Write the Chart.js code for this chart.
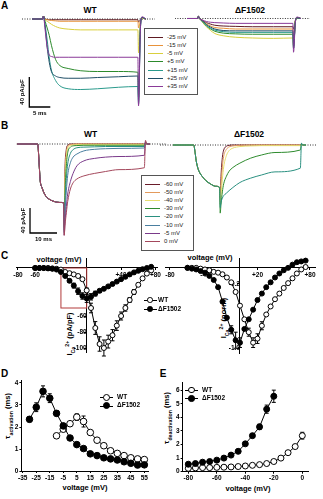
<!DOCTYPE html>
<html lang="en">
<head>
<meta charset="UTF-8">
<title>Cav currents: WT vs ΔF1502</title>
<script src="https://cdn.jsdelivr.net/npm/chart.js"></script>
<style>
  body { margin: 0; background: #fff; }
  #fig { position: relative; width: 323px; height: 499px; overflow: hidden;
         font-family: 'Liberation Sans', Arial, sans-serif; color: #000; }
  canvas { position: absolute; }
  .lbl { position: absolute; white-space: nowrap; transform: translate(-50%, -50%);
         font-weight: bold; line-height: 1; }
  .panel { font-size: 10px; }
  .ttl { font-size: 8.5px; }
  .ax { font-size: 7.5px; }
  .rot { transform: translate(-50%, -50%) rotate(-90deg); }
  sub, sup { font-size: 70%; line-height: 0; }
  .key { position: absolute; background: #fff; border: 1px solid #555; z-index: 2; }
  .key .row { position: absolute; left: 0; height: 0; }
  .key .ln { position: absolute; top: 0; width: 15px; border-top: 1px solid; }
  .key .tx { position: absolute; top: -3px; font-size: 6px; color: #222; white-space: nowrap; line-height: 1; }
  .sym { position: absolute; height: 0; z-index: 2; }
  .sym .ln { position: absolute; left: 0; top: 0; width: 13px; border-top: 1px solid #000; }
  .sym .dot { position: absolute; border: 1px solid #000; border-radius: 50%; box-sizing: border-box; }
  .sym .tx { position: absolute; top: -3.5px; font-size: 6.5px; font-weight: bold; white-space: nowrap; line-height: 1; }
</style>
</head>
<body>
<div id="fig">
  <div class="lbl panel" style="left:4.5px;top:5.5px">A</div>
  <div class="lbl ttl" style="left:90px;top:10px">WT</div>
  <div class="lbl ttl" style="left:250px;top:10px">ΔF1502</div>

  <div class="lbl panel" style="left:4.5px;top:125.5px">B</div>
  <div class="lbl ttl" style="left:90.5px;top:133.5px">WT</div>
  <div class="lbl ttl" style="left:249px;top:133.5px">ΔF1502</div>

  <div class="lbl panel" style="left:4.5px;top:255.5px">C</div>
  <div class="lbl ax" style="left:59px;top:259.5px">voltage (mV)</div>
  <div class="lbl ax" style="left:210px;top:257.5px">voltage (mV)</div>
  <div class="lbl ax rot" style="left:70px;top:334px">I<sub>Ca</sub><sup>2+</sup> (pA/pF)</div>
  <div class="lbl ax rot" style="left:224px;top:318px">I<sub>Ca</sub><sup>2+</sup> (norm)</div>

  <div class="lbl panel" style="left:4.5px;top:373.5px">D</div>
  <div class="lbl panel" style="left:163px;top:373.5px">E</div>
  <div class="lbl ax rot" style="left:8px;top:416px">τ<sub>activation</sub> (ms)</div>
  <div class="lbl ax rot" style="left:167px;top:418px">τ<sub>deactivation</sub> (ms)</div>
  <div class="lbl ax" style="left:85px;top:488px">voltage (mV)</div>
  <div class="lbl ax" style="left:248px;top:489px">voltage (mV)</div>
</div>

<script>
// ---------- A: step currents (pA/pF) vs time (ms) ----------
const aSteps = ['-25 mV', '-15 mV', '-5 mV', '+5 mV', '+15 mV', '+25 mV', '+35 mV'];
const aColors = ['#5e1a22', '#e8923a', '#d9cf3c', '#2c8a2c', '#2a9a8c', '#1f4e66', '#8a3a98'];
const aTime = [-2.6, -0.1, 0.1, 0.5, 1, 1.5, 2, 3, 4, 6, 9, 13, 18, 22.6, 22.75, 23.2, 23.6, 24.5];

const aWtMinus25 = [0, 0, 4, 0, -0.5, -1, -1, -1, -1, -1, -1, -1, -1, -1, -4, -1, 1, 0];
const aWtMinus15 = [0, 0, 4, -0.5, -1, -1.5, -2, -2.5, -3, -3, -3, -3, -3, -3, -12, -2, 1, 0];
const aWtMinus5 = [0, 0, 4, -1, -3, -5, -7, -10, -12, -13.5, -14.5, -14.5, -14.5, -14.5, -45, -5, 1, 0];
const aWtPlus5 = [0, 0, 4, -3, -12, -22, -35, -54, -62, -66, -69, -70, -70, -71, -105, -10, 2, 0];
const aWtPlus15 = [0, 0, 4, -8, -28, -52, -68, -82, -89, -93, -94, -93, -91, -90, -112, -12, 2, 0];
const aWtPlus25 = [0, 0, 4, -10, -38, -58, -70, -76, -78, -79, -79, -78, -77, -76, -114, -12, 2, 0];
const aWtPlus35 = [0, 0, 4, -14, -38, -48, -50, -51, -51, -51, -51, -51, -51, -51, -116, -14, 3, 0];

const aMutMinus25 = [0, 0, 3, -1, -2, -4, -5.5, -7.5, -9, -10, -10.5, -11, -11, -11, -14, -2, 1, 0];
const aMutMinus15 = [0, 0, 3, -1, -3, -5, -7, -10, -12, -13, -14, -14, -14, -14, -25, -3, 1, 0];
const aMutMinus5 = [0, 0, 3, -1, -4, -8, -11, -16, -20, -23, -25, -26, -26.5, -26, -36, -4, 1, 0];
const aMutPlus5 = [0, 0, 3, -1, -4, -7, -10, -14, -17, -19.5, -20.5, -21, -21, -21, -38, -4, 1, 0];
const aMutPlus15 = [0, 0, 3, -1, -3, -6, -9, -13, -15.5, -17.5, -18.5, -18.5, -18.5, -18.5, -40, -4, 1, 0];
const aMutPlus25 = [0, 0, 3, -1, -3, -5, -8, -11.5, -14, -16, -16.5, -16.5, -16.5, -16.5, -40, -4, 1, 0];
const aMutPlus35 = [0, 0, 3, -1, -2, -3, -4, -5, -5.5, -6, -6.5, -6.5, -6.5, -6.5, -45, -5, 2, 0];

// ---------- B: tail currents after a prepulse ----------
const bSteps = ['-60 mV', '-50 mV', '-40 mV', '-30 mV', '-20 mV', '-10 mV', '-5 mV', '0 mV'];
const bColors = ['#6a1c2a', '#e39a5c', '#e6dd6e', '#2e8b2e', '#2a9080', '#4a7fa0', '#7a3a8a', '#a4485c'];
const bTime = [-7.8, -0.1, 0.4, 0.8, 1.5, 2.2, 3, 4.4, 6, 8, 9.5,
               9.7, 10, 10.5, 11, 12, 13, 14.4, 17, 21, 25, 30, 39.4,
               39.8, 40.3, 41.5];

const bWtMinus60 = [0, 0, -30, -58, -70, -78, -84, -89, -92, -93.5, -94,
                    -120, -40, -8, -2, 0, 0, 0, 0, 0, 0, 0, 0, 1, 0, 0];
const bWtMinus50 = [0, 0, -30, -58, -70, -78, -84, -89, -92, -93.5, -94,
                    -125, -50, -14, -4, -1, -0.5, 0, 0, 0, 0, 0, 0, 1, 0, 0];
const bWtMinus40 = [0, 0, -30, -58, -70, -78, -84, -89, -92, -93.5, -94,
                    -130, -65, -22, -7, -2.5, -1.5, -1, -1, -1, -1, -1, -1, 1, 0, 0];
const bWtMinus30 = [0, 0, -30, -58, -70, -78, -84, -89, -92, -93.5, -94,
                    -134, -80, -35, -14, -5, -3, -2.5, -2, -2, -2, -2, -2, 2, 0, 0];
const bWtMinus20 = [0, 0, -30, -58, -70, -78, -84, -89, -92, -93.5, -94,
                    -138, -95, -55, -32, -15, -9, -6, -5, -4.5, -4, -4, -4, 2, 0, 0];
const bWtMinus10 = [0, 0, -30, -58, -70, -78, -84, -89, -92, -93.5, -94,
                    -142, -110, -75, -50, -30, -21, -16, -11, -8.5, -7.5, -7, -6.4, 3, 0, 0];
const bWtMinus5 = [0, 0, -30, -58, -70, -78, -84, -89, -92, -93.5, -94,
                   -146, -125, -100, -80, -60, -47, -35, -27, -23, -21, -20, -18, 4, 0, 0];
const bWtZero = [0, 0, -30, -58, -70, -78, -84, -89, -92, -93.5, -94,
                 -146, -130, -110, -92, -72, -62, -56, -51, -47, -44, -41, -38, 6, 0, 0];

const bMutMinus60 = [0, 0, -12, -25, -38, -45, -50, -57, -62, -66, -68,
                     -85, -50, -20, -8, -2, -0.5, 0, 0, 0, 0, 0, 0, 1, 0, 0];
const bMutMinus50 = [0, 0, -12, -25, -38, -45, -50, -57, -62, -66, -68,
                     -90, -65, -35, -18, -7, -3, -1.5, -0.5, 0, 0, 0, 0, 1, 0, 0];
const bMutMinus40 = [0, 0, -12, -25, -38, -45, -50, -57, -62, -66, -68,
                     -95, -80, -55, -35, -17, -9, -5, -2.5, -1.5, -1, -1, -1, 1, 0, 0];
const bMutMinus30 = [0, 0, -12, -25, -38, -45, -50, -57, -62, -66, -68,
                     -109, -95, -75, -62, -50, -42, -36, -29, -21, -16, -12, -8, 2, 0, 0];
const bMutMinus20 = [0, 0, -12, -25, -38, -45, -50, -57, -62, -66, -68,
                     -100, -92, -85, -81, -77, -73, -68, -60, -53, -48, -43, -37, 3, 0, 0];

// ---------- C: current-voltage relations ----------
const ivVoltage = [-60, -55, -50, -45, -40, -35, -30, -25, -20, -15, -10, -5, 0, 5,
                   10, 15, 20, 25, 30, 35, 40, 45, 50, 55, 60, 65, 70, 75];
const wtIv = [0, 0, 0, 0, -0.5, -1, -2, -5, -6.5, -8, -10, -14, -28, -50,
              -75, -95, -100, -92, -84, -72, -60, -50, -40, -30, -21, -13, -7, -3];
const wtIvSem = [0, 0, 0, 0, 0, 0, 0, 0, 0, 0, 0, 1, 3, 6,
                 8, 9, 10, 8, 7, 6, 5, 4, 3, 3, 2, 0, 0, 0];
const mutIv = [0, 0, 0, -0.5, -1, -2, -5, -10, -16, -22, -29, -35, -38, -36,
               -32, -28.5, -26, -23, -20, -17, -14, -11, -8, -5.5, -3.5, -1.5, 0, 1.5];
const mutIvSem = [0, 0, 0, 0, 0, 0, 0, 0, 2, 3, 4, 4, 5, 4,
                  3, 2, 0, 0, 0, 0, 0, 0, 0, 0, 0, 0, 0, 0];
const wtIvNorm = [0, 0, 0, -0.01, -0.02, -0.03, -0.05, -0.06, -0.08, -0.12, -0.18, -0.3, -0.47, -0.64,
                  -0.8, -0.93, -0.88, -0.72, -0.58, -0.48, -0.39, -0.32, -0.25, -0.19, -0.13, -0.07, -0.02, 0.01];
const wtNormSem = [0, 0, 0, 0, 0, 0, 0, 0, 0, 0, 0, 0, 0, 0,
                   0.05, 0.06, 0.06, 0.05, 0, 0, 0, 0, 0, 0, 0, 0, 0, 0];
const mutIvNorm = [0, -0.01, -0.02, -0.04, -0.06, -0.1, -0.15, -0.24, -0.42, -0.62, -0.77, -0.9, -0.93, -0.76,
                   -0.64, -0.52, -0.4, -0.32, -0.24, -0.18, -0.12, -0.07, -0.03, 0, 0.04, 0.07, 0.08, 0.09];
const mutNormSem = [0, 0, 0, 0, 0, 0, 0, 0, 0, 0, 0.05, 0.1, 0.06, 0,
                    0, 0, 0, 0, 0, 0, 0, 0, 0, 0, 0, 0, 0, 0];
const cTicksXLeft = [-80, -60, 40, 80];
const cTicksXRight = [-80, -40, 20, 80];
const cTicksYLeft = [-100, -80, -60];
const cTicksYRight = [-1, -0.2];

// ---------- D: activation time constants ----------
const actVoltageWT = [-10, -5, 0, 5, 10, 15, 20, 25, 30, 35, 40, 45, 50, 55];
const tauActWT = [1.6, 1.9, 2.15, 2.45, 2.25, 1.75, 1.4, 1.15, 0.92, 0.8, 0.7, 0.6, 0.55, 0.52];
const tauActWTSem = [0.05, 0.05, 0.08, 0.15, 0.25, 0.1, 0.05, 0.04, 0.04, 0.03, 0.03, 0.03, 0.03, 0.03];
const actVoltageMut = [-30, -25, -20, -15, -10, -5, 0, 5, 10, 15, 20, 25, 30, 35, 40, 45, 50, 55];
const tauActMut = [2.35, 2.9, 3.62, 3.31, 2.62, 2.05, 1.5, 1.2, 1.02, 0.78, 0.7, 0.6, 0.55, 0.5, 0.42, 0.35, 0.27, 0.28];
const tauActMutSem = [0.12, 0.2, 0.25, 0.2, 0.12, 0.08, 0.05, 0.04, 0.04, 0.03, 0.03, 0.03, 0.03, 0.03, 0.03, 0.03, 0.03, 0.03];
const dTicksX = [-35, -25, -15, -5, 5, 15, 25, 35, 45, 55];
const dTicksY = [0, 1, 2, 3, 4];

// ---------- E: deactivation time constants ----------
const deactVoltageWT = [-80, -75, -70, -65, -60, -55, -50, -45, -40, -35, -30, -25, -20, -15, -10, -5, 0];
const tauDeactWT = [0.25, 0.28, 0.3, 0.3, 0.32, 0.33, 0.35, 0.38, 0.42, 0.47, 0.52, 0.6, 0.75, 1.0, 1.4, 1.85, 2.65];
const tauDeactWTSem = [0, 0, 0, 0, 0, 0, 0, 0, 0, 0, 0, 0, 0.05, 0.05, 0.08, 0.12, 0.25];
const deactVoltageMut = [-80, -75, -70, -65, -60, -55, -50, -45, -40, -35, -30, -25, -20];
const tauDeactMut = [0.55, 0.6, 0.7, 0.75, 0.85, 1.0, 1.22, 1.5, 2.05, 2.65, 3.3, 4.6, 5.55];
const tauDeactMutSem = [0, 0, 0, 0, 0, 0, 0.05, 0.08, 0.1, 0.12, 0.2, 0.3, 0.45];
const eTicksX = [-80, -60, -40, -20, 0];
const eTicksY = [0, 1, 2, 3, 4, 5, 6];

// ---------------------------------------------------------------
Chart.defaults.font.family = "'Liberation Sans', Arial, sans-serif";
Chart.defaults.animation = false;
Chart.defaults.events = [];
Chart.defaults.plugins.legend.display = false;
Chart.defaults.plugins.tooltip.enabled = false;

const fig = document.getElementById('fig');

function makeCanvas(left, top, width, height) {
  const c = document.createElement('canvas');
  c.width = width;
  c.height = height;
  c.style.left = left + 'px';
  c.style.top = top + 'px';
  c.style.width = width + 'px';
  c.style.height = height + 'px';
  fig.appendChild(c);
  return c;
}

const zip = (xs, ys) => xs.map((x, i) => ({ x: x, y: ys[i] }));

// L-shaped calibration bar with its two labels
const scaleBar = {
  id: 'scaleBar',
  afterDatasetsDraw(chart, args, o) {
    const { ctx, scales: { x, y } } = chart;
    const x0 = x.getPixelForValue(o.t), x1 = x.getPixelForValue(o.t + o.dt);
    const y0 = y.getPixelForValue(o.v), y1 = y.getPixelForValue(o.v + o.dv);
    ctx.save();
    ctx.strokeStyle = '#000';
    ctx.lineWidth = 1.3;
    ctx.beginPath();
    ctx.moveTo(x0, y1);
    ctx.lineTo(x0, y0);
    ctx.lineTo(x1, y0);
    ctx.stroke();
    ctx.fillStyle = '#000';
    ctx.font = "bold 6px 'Liberation Sans', Arial, sans-serif";
    ctx.textAlign = 'center';
    ctx.textBaseline = 'middle';
    ctx.fillText(o.tLabel, (x0 + x1) / 2, y0 + 6);
    ctx.translate(x0 - 6.5, (y0 + y1) / 2);
    ctx.rotate(-Math.PI / 2);
    ctx.fillText(o.vLabel, 0, 0);
    ctx.restore();
  }
};

// vertical SEM bars, drawn under the markers
const errorBars = {
  id: 'errorBars',
  beforeDatasetsDraw(chart) {
    const { ctx } = chart;
    const y = chart.scales.y;
    chart.data.datasets.forEach((ds, i) => {
      if (!ds.errors) return;
      const meta = chart.getDatasetMeta(i);
      ctx.save();
      ctx.strokeStyle = '#000';
      ctx.lineWidth = 1;
      meta.data.forEach((pt, j) => {
        const e = ds.errors[j];
        if (!e) return;
        const v = ds.data[j].y;
        const top = y.getPixelForValue(v + e), bot = y.getPixelForValue(v - e);
        ctx.beginPath();
        ctx.moveTo(pt.x, top); ctx.lineTo(pt.x, bot);
        ctx.moveTo(pt.x - 2, top); ctx.lineTo(pt.x + 2, top);
        ctx.moveTo(pt.x - 2, bot); ctx.lineTo(pt.x + 2, bot);
        ctx.stroke();
      });
      ctx.restore();
    });
  }
};

// outline of the voltage window enlarged in the normalised plot
const zoomBox = {
  id: 'zoomBox',
  beforeDatasetsDraw(chart, args, o) {
    const { ctx, scales: { x, y } } = chart;
    const l = x.getPixelForValue(o.x0), r = x.getPixelForValue(o.x1);
    const t = y.getPixelForValue(o.y0), b = y.getPixelForValue(o.y1);
    ctx.save();
    ctx.strokeStyle = '#b23a3a';
    ctx.lineWidth = 1;
    ctx.strokeRect(l, t, r - l, b - t);
    ctx.restore();
  }
};

function traceChart(cv, pad, xr, yr, time, series, colors, bar) {
  const datasets = series.map((vals, i) => ({
    data: zip(time, vals),
    borderColor: colors[i],
    borderWidth: 1,
    pointRadius: 0,
    cubicInterpolationMode: 'monotone',
    clip: false,
    order: series.length - i
  }));
  // dotted zero-current line
  datasets.push({
    data: [{ x: xr[0], y: 0 }, { x: xr[1], y: 0 }],
    borderColor: '#333', borderWidth: 1, borderDash: [1, 1.5],
    pointRadius: 0, order: 99
  });
  return new Chart(cv, {
    type: 'line',
    data: { datasets },
    options: {
      responsive: false,
      layout: { autoPadding: false, padding: pad },
      scales: {
        x: { type: 'linear', min: xr[0], max: xr[1], display: false },
        y: { type: 'linear', min: yr[0], max: yr[1], display: false }
      },
      plugins: { scaleBar: bar || false }
    },
    plugins: [scaleBar]
  });
}

function axisOpts(min, max, position, ticks, fmt, extra) {
  return Object.assign({
    type: 'linear', min, max, position,
    border: { display: true, color: '#000', width: 1 },
    grid: { display: true, drawOnChartArea: false, drawTicks: true, tickLength: 2, color: '#000', lineWidth: 1 },
    ticks: { color: '#000', font: { size: 6.5, weight: 'bold' }, padding: 1, autoSkip: false, maxRotation: 0,
             callback: fmt },
    afterBuildTicks: s => { s.ticks = ticks.map(v => ({ value: v })); }
  }, extra || {});
}

function pointSet(label, xs, ys, errs, filled, r, order) {
  return {
    label, data: zip(xs, ys), errors: errs,
    borderColor: '#000', borderWidth: 1, tension: 0,
    pointRadius: r, pointBorderWidth: 1,
    pointBackgroundColor: filled ? '#000' : '#fff', pointBorderColor: '#000',
    clip: false, order
  };
}

const signed = v => (v > 0 ? '+' + v : String(v));

// ---------- A ----------
traceChart(makeCanvas(14, 10, 146, 110), { left: 8, right: 4.9, top: 0, bottom: 8 },
  [-5, 26.7], [-124, 12], aTime,
  [aWtMinus25, aWtMinus15, aWtMinus5, aWtPlus5, aWtPlus15, aWtPlus25, aWtPlus35], aColors,
  { t: -3.26, v: -117.3, dt: 5, dv: 40, tLabel: '5 ms', vLabel: '40 pA/pF' });

traceChart(makeCanvas(170, 10, 146, 54), { left: 4.9, right: 5.9, top: 0, bottom: 2 },
  [-5.5, 26.7], [-58, 11.33], aTime,
  [aMutMinus25, aMutMinus15, aMutMinus5, aMutPlus5, aMutPlus15, aMutPlus25, aMutPlus35], aColors);

// ---------- B ----------
traceChart(makeCanvas(8, 137, 164, 113), { left: 8.94, right: 4.94, top: 0, bottom: 5 },
  [-7.8, 47.8], [-161.6, 11.2], bTime,
  [bWtMinus60, bWtMinus50, bWtMinus40, bWtMinus30, bWtMinus20, bWtMinus10, bWtMinus5, bWtZero], bColors,
  { t: -2.96, v: -142.4, dt: 10, dv: 40, tLabel: '10 ms', vLabel: '40 pA/pF' });

traceChart(makeCanvas(156, 137, 164, 80), { left: 4, right: 2.9, top: 0, bottom: 2 },
  [-12.6, 45.6], [-112, 12.8], bTime,
  [bMutMinus60, bMutMinus50, bMutMinus40, bMutMinus30, bMutMinus20], bColors);

// ---------- C ----------
new Chart(makeCanvas(0, 250, 162, 108), {
  type: 'line',
  data: { datasets: [
    pointSet('ΔF1502', ivVoltage, mutIv, mutIvSem, true, 2.5, 1),
    pointSet('WT', ivVoltage, wtIv, wtIvSem, false, 2.5, 2)
  ] },
  options: {
    responsive: false,
    layout: { autoPadding: false, padding: { left: 16.25, right: 2.25, top: 8.4, bottom: 5.2 } },
    scales: {
      x: axisOpts(-82, 82, { y: 0 }, cTicksXLeft, signed),
      y: axisOpts(-106, 12, { x: 0 }, cTicksYLeft, v => String(v))
    },
    plugins: { zoomBox: { x0: -30, x1: 0, y0: 0, y1: -50 } }
  },
  plugins: [zoomBox, errorBars]
});

new Chart(makeCanvas(160, 250, 163, 108), {
  type: 'line',
  data: { datasets: [
    pointSet('ΔF1502', ivVoltage, mutIvNorm, mutNormSem, true, 2.5, 1),
    pointSet('WT', ivVoltage, wtIvNorm, wtNormSem, false, 2.5, 2)
  ] },
  options: {
    responsive: false,
    layout: { autoPadding: false, padding: { left: 5.6, right: 7.75, top: 8.2, bottom: 3.1 } },
    scales: {
      x: axisOpts(-85, 86, { y: 0 }, cTicksXRight, signed),
      y: axisOpts(-1.06, 0.12, { x: 0 }, cTicksYRight, v => v.toFixed(1))
    }
  },
  plugins: [errorBars]
});

// ---------- D ----------
new Chart(makeCanvas(0, 372, 160, 112), {
  type: 'line',
  data: { datasets: [
    pointSet('ΔF1502', actVoltageMut, tauActMut, tauActMutSem, true, 3.3, 1),
    pointSet('WT', actVoltageWT, tauActWT, tauActWTSem, false, 3.3, 2)
  ] },
  options: {
    responsive: false,
    layout: { autoPadding: false, padding: { left: 0, right: 11.6, top: 8.8, bottom: 2 } },
    scales: {
      x: axisOpts(-36, 58, 'bottom', dTicksX, v => String(v), { afterFit: s => { s.height = 11; } }),
      y: axisOpts(0, 4.1, 'left', dTicksY, v => String(v), { afterFit: s => { s.width = 21.4; } })
    }
  },
  plugins: [errorBars]
});

// ---------- E ----------
new Chart(makeCanvas(160, 372, 160, 112), {
  type: 'line',
  data: { datasets: [
    pointSet('ΔF1502', deactVoltageMut, tauDeactMut, tauDeactMutSem, true, 3, 1),
    pointSet('WT', deactVoltageWT, tauDeactWT, tauDeactWTSem, false, 3, 2)
  ] },
  options: {
    responsive: false,
    layout: { autoPadding: false, padding: { left: 0, right: 12, top: 10, bottom: 1.3 } },
    scales: {
      x: axisOpts(-84, 4, 'bottom', eTicksX, v => String(v), { afterFit: s => { s.height = 11; } }),
      y: axisOpts(0, 6.6, 'left', eTicksY, v => String(v), { afterFit: s => { s.width = 22.6; } })
    }
  },
  plugins: [errorBars]
});

// ---------- keys ----------
function traceKey(left, top, width, height, labels, colors, rowTop, rowStep) {
  const box = document.createElement('div');
  box.className = 'key';
  box.style.cssText = `left:${left}px;top:${top}px;width:${width}px;height:${height}px`;
  labels.forEach((lab, i) => {
    const row = document.createElement('div');
    row.className = 'row';
    row.style.top = (rowTop + i * rowStep) + 'px';
    row.innerHTML = `<span class="ln" style="left:3px;border-color:${colors[i]}"></span>` +
                    `<span class="tx" style="left:22px">${lab}</span>`;
    box.appendChild(row);
  });
  fig.appendChild(box);
}

function symbolKey(cx, cy, filled, text, d, textLeft) {
  const el = document.createElement('div');
  el.className = 'sym';
  el.style.left = (cx - 6.5) + 'px';
  el.style.top = cy + 'px';
  el.innerHTML = `<span class="ln"></span>` +
    `<span class="dot" style="width:${d}px;height:${d}px;left:${6.5 - d / 2}px;top:${-d / 2}px;` +
    `background:${filled ? '#000' : '#fff'}"></span>` +
    `<span class="tx" style="left:${textLeft - cx + 6.5}px">${text}</span>`;
  fig.appendChild(el);
}

traceKey(144, 28, 52, 65, aSteps, aColors, 7.5, 8.33);
traceKey(141, 175, 51, 74, bSteps, bColors, 7.5, 8.2);

symbolKey(150, 300, false, 'WT', 5.5, 158);
symbolKey(150, 309, true, 'ΔF1502', 5.5, 158);
symbolKey(106, 397, false, 'WT', 7, 117);
symbolKey(106, 405.5, true, 'ΔF1502', 7, 117);
symbolKey(191.5, 390, false, 'WT', 6.5, 202);
symbolKey(191.5, 398.3, true, 'ΔF1502', 6.5, 202);
</script>
</body>
</html>
